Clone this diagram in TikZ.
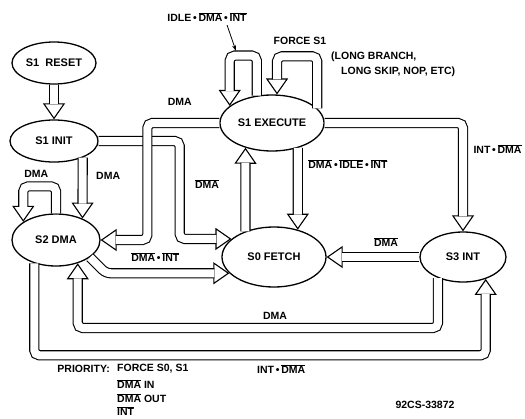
\documentclass[tikz,border=0pt]{standalone}
\usepackage{fontspec}
\setmainfont{Liberation Sans}
\usetikzlibrary{shapes.geometric, positioning, arrows.meta}
\newcommand{\nsig}[1]{$\overline{\mbox{#1}}$}
\tikzset{
	stateell/.style={ellipse, draw, line width=1.3pt, inner sep=0pt, font=\bfseries\fontsize{11}{13}\selectfont}, % the state ellipses
	hollow/.style={draw, line width=1.1pt, rounded corners=5pt, -{Triangle[open, length=16pt, width=22pt]},
		postaction={draw, -, double, double distance=8pt, shorten >=15pt}}, % the wide open arrows
	lbl/.style={font=\bfseries\fontsize{10.5}{12}\selectfont, inner sep=1pt}, % transition labels
}
\begin{document}
\begin{tikzpicture}[x=1pt, y=-1pt, on grid]
	\useasboundingbox (0,0) rectangle (525,418);
	% States
	\node[stateell, minimum width=84pt, minimum height=42pt] (s1reset) at (54,63) {S1~~RESET};
	\node[stateell, minimum width=88pt, minimum height=42pt, below=78pt of s1reset] (s1init) {S1 INIT};
	\node[stateell, minimum width=88pt, minimum height=52pt, below right=99pt and 2pt of s1init] (s2dma) {S2 DMA};
	\node[stateell, minimum width=104pt, minimum height=56pt, above right=18pt and 218pt of s1init] (s1exec) {S1 EXECUTE};
	\node[stateell, minimum width=104pt, minimum height=60pt, below right=134pt and 2pt of s1exec] (s0fetch) {S0 FETCH};
	\node[stateell, minimum width=86pt, minimum height=50pt, right=189pt of s0fetch] (s3int) {S3 INT};

	% Transitions
	\draw[hollow] (s1reset.south) -- (s1init.north);
	\draw[hollow] (s1init.-30) -- node[lbl, right=12pt, pos=0.3] {DMA} (s2dma.39);
	\draw[hollow] (s2dma.north) -- ++(0,-27) -| node[lbl, pos=0.3, above=7pt] {DMA} (s2dma.151);
	\draw[hollow] (s1init.east) -- ++(81,0) |- (s0fetch.157);
	\draw[hollow] (s1exec.west) -- node[lbl, above=16pt, pos=0.55] {DMA} ++(-72,0) |- (s2dma.east);
	\draw[hollow] (s2dma.-27) -- ++(16,16) -- node[lbl, above=10pt, pos=0.4] {\nsig{DMA}\,•\,\nsig{INT}} (s0fetch.200);
	\draw[hollow] (s0fetch.138) -- (s1exec.223);
	\draw[hollow] (s1exec.-44.5) -- node[lbl, right=9pt, anchor=west, pos=0.2] {\nsig{DMA}\,•\,\nsig{IDLE}\,•\,\nsig{INT}} (s0fetch.49.5);
	\draw[hollow] (s3int.west) -- node[lbl, above=9pt, pos=0.36] {\nsig{DMA}} (s0fetch.east);
	\draw[hollow] (s1exec.east) -| node[lbl, pos=0.62, anchor=west, right=9pt] {INT\,•\,\nsig{DMA}} (s3int.north);
	\draw[hollow] (s1exec.119) -- ++(0,-40) -| (s1exec.158.6);
	\draw[hollow] (s1exec.18.7) -- ++(0,-52) -| (s1exec.80);
	\draw[hollow] (s3int.220.8) -- ++(0,50) -| (s2dma.-47.4);
	\draw[hollow] (s2dma.227.4) -- ++(0,92) -| (s3int.-44.3);
	\node[lbl] (fetchlbl) at (207,184) {\nsig{DMA}};
	\node[lbl] (backlbl) at (275,316) {DMA};

	% Loop notes
	\node[lbl] (idlelbl) at (207,17) {IDLE\,•\,\nsig{DMA}\,•\,\nsig{INT}};
	\coordinate (ptrtail) at (227,25);
	\coordinate (ptrtip) at (236,51);
	\draw[line width=0.8pt, -{Stealth[length=6pt, width=4pt]}] (ptrtail) -- (ptrtip);
	\node[lbl] (forcelbl) at (300,41) {FORCE S1};
	\node[lbl, anchor=west] (longa) at (330,57) {(LONG BRANCH,};
	\node[lbl, anchor=west] (longb) at (340,72) {LONG SKIP, NOP, ETC)};

	% Priority list
	\node[lbl, anchor=east] (prio) at (111,369) {PRIORITY:};
	\node[lbl, anchor=west] (prioa) at (116,369) {FORCE S0, S1};
	\node[lbl, anchor=west] (priob) at (116,384) {\nsig{DMA} IN};
	\node[lbl, anchor=west] (prioc) at (116,398) {\nsig{DMA} OUT};
	\node[lbl, anchor=west] (priod) at (116,411) {\nsig{INT}};
	\node[lbl, anchor=west] (prioe) at (256,369) {INT\,•\,\nsig{DMA}};
	\node[lbl] (figno) at (425,405) {92CS-33872};
\end{tikzpicture}
\end{document}
